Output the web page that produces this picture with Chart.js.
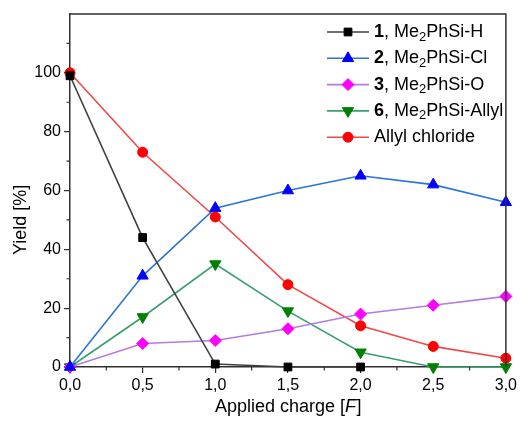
<!DOCTYPE html>
<html><head><meta charset="utf-8">
<script src="https://cdn.jsdelivr.net/npm/chart.js@4.4.0/dist/chart.umd.min.js"></script>
<style>html,body{margin:0;padding:0;background:#fff}#wrap{width:520px;height:421px}</style>
</head><body><div id="wrap"><canvas id="c" width="520" height="421"></canvas></div>
<script>
const charge = [0, 0.5, 1.0, 1.5, 2.0, 2.5, 3.0];
const yieldSiH = [99, 44, 1, 0, 0];
const yieldSiCl = [0, 31, 54, 60, 65, 62, 56];
const yieldSiO = [0, 8, 9, 13, 18, 21, 24];
const yieldSiAllyl = [0, 17, 35, 19, 5, 0, 0];
const yieldAllylCl = [100, 73, 51, 28, 14, 7, 3];
const legendNumbers = ['1', '2', '3', '6', ''];
const legendNames = ['Me₂PhSi-H', 'Me₂PhSi-Cl', 'Me₂PhSi-O', 'Me₂PhSi-Allyl', 'Allyl chloride'];
const xTicks = [0, 0.5, 1.0, 1.5, 2.0, 2.5, 3.0];
const yTicks = [0, 20, 40, 60, 80, 100];

const FONT = '"Liberation Sans", Arial, Helvetica, sans-serif';
Chart.defaults.font.family = FONT;
Chart.defaults.color = '#000';

function pts(vals) { return vals.map((v, i) => ({x: charge[i], y: v})); }

const styles = [
  {line: '#404040', mark: '#000000', style: 'rect', r: 5.5, rot: 0},
  {line: '#2b74d9', mark: '#0000ff', style: 'triangle', r: 6.5, rot: 0},
  {line: '#b57be0', mark: '#ff00ff', style: 'rectRot', r: 6, rot: 0},
  {line: '#3a9f6e', mark: '#008000', style: 'triangle', r: 6.5, rot: 180},
  {line: '#f04848', mark: '#ff0000', style: 'circle', r: 5, rot: 0}
];
const series = [yieldSiH, yieldSiCl, yieldSiO, yieldSiAllyl, yieldAllylCl];

const datasets = series.map((vals, i) => ({
  label: (legendNumbers[i] ? legendNumbers[i] + ', ' : '') + legendNames[i],
  data: pts(vals),
  borderColor: styles[i].line,
  borderWidth: 1.6,
  pointBackgroundColor: styles[i].mark,
  pointBorderColor: styles[i].mark,
  pointBorderWidth: 1,
  pointStyle: styles[i].style,
  pointRadius: styles[i].r,
  pointRotation: styles[i].rot,
  tension: 0,
  clip: false
}));

const extras = {
  id: 'extras',
  afterDraw(chart) {
    const ctx = chart.ctx, a = chart.chartArea;
    const xs = chart.scales.x, ys = chart.scales.y;
    ctx.save();
    // frame
    ctx.strokeStyle = '#303030'; ctx.lineWidth = 1.5;
    ctx.beginPath();
    ctx.moveTo(a.left, a.top); ctx.lineTo(a.right, a.top); ctx.lineTo(a.right, a.bottom);
    ctx.stroke();
    // minor ticks
    ctx.lineWidth = 1.2;
    ctx.beginPath();
    for (let v = 0.25; v < 3; v += 0.5) {
      const px = xs.getPixelForValue(v);
      ctx.moveTo(px, a.bottom); ctx.lineTo(px, a.bottom + 3.5);
    }
    for (let v = 10; v < 120; v += 20) {
      const py = ys.getPixelForValue(v);
      ctx.moveTo(a.left, py); ctx.lineTo(a.left - 3.5, py);
    }
    ctx.stroke();
    // x title
    ctx.fillStyle = '#000';
    ctx.textBaseline = 'alphabetic';
    const f1 = '18px ' + FONT, f2 = 'italic 18px ' + FONT;
    const p1 = 'Applied charge [', p2 = 'F', p3 = ']';
    ctx.font = f1; const w1 = ctx.measureText(p1).width, w3 = ctx.measureText(p3).width;
    ctx.font = f2; const w2 = ctx.measureText(p2).width;
    let tx = (a.left + a.right) / 2 - (w1 + w2 + w3) / 2;
    const ty = 412;
    ctx.textAlign = 'left';
    ctx.font = f1; ctx.fillText(p1, tx, ty); tx += w1;
    ctx.font = f2; ctx.fillText(p2, tx, ty); tx += w2 + 0.5;
    ctx.font = f1; ctx.fillText(p3, tx, ty);
    // y title
    ctx.save();
    ctx.translate(26, (ys.getPixelForValue(0) + ys.getPixelForValue(100)) / 2);
    ctx.rotate(-Math.PI / 2);
    ctx.textAlign = 'center';
    ctx.font = '18px ' + FONT;
    ctx.fillText('Yield [%]', 0, 0);
    ctx.restore();
    // legend
    const lf = '18px ' + FONT, lfb = 'bold 18px ' + FONT, sf = '13px ' + FONT;
    datasets.forEach((d, i) => {
      const y = 32 + i * 26.3;
      ctx.strokeStyle = d.borderColor; ctx.lineWidth = 1.6;
      ctx.beginPath(); ctx.moveTo(327, y); ctx.lineTo(369, y); ctx.stroke();
      ctx.fillStyle = d.pointBackgroundColor; ctx.strokeStyle = d.pointBorderColor; ctx.lineWidth = 1;
      Chart.helpers.drawPoint(ctx, {pointStyle: d.pointStyle, radius: d.pointRadius, rotation: d.pointRotation, borderWidth: 1}, 348, y);
      ctx.fillStyle = '#000'; ctx.textAlign = 'left'; ctx.textBaseline = 'middle';
      let x = 374;
      if (legendNumbers[i]) {
        ctx.font = lfb; ctx.fillText(legendNumbers[i], x, y); x += ctx.measureText(legendNumbers[i]).width;
        ctx.font = lf; ctx.fillText(', ', x, y); x += ctx.measureText(', ').width;
      }
      const parts = legendNames[i].split('₂');
      parts.forEach((p, k) => {
        ctx.font = lf; ctx.fillText(p, x, y); x += ctx.measureText(p).width;
        if (k < parts.length - 1) {
          ctx.font = sf; ctx.fillText('2', x, y + 5); x += ctx.measureText('2').width;
        }
      });
    });
    ctx.restore();
  }
};

new Chart(document.getElementById('c'), {
  type: 'line',
  data: {datasets},
  options: {
    responsive: false, animation: false, devicePixelRatio: 1,
    layout: {padding: {top: 14, right: 11, left: 0, bottom: 0}},
    plugins: {legend: {display: false}, tooltip: {enabled: false}, title: {display: false}},
    scales: {
      x: {
        type: 'linear', min: 0, max: 3,
        afterBuildTicks: s => { s.ticks = xTicks.map(v => ({value: v})); },
        afterFit: s => { s.height = 54; },
        ticks: {font: {size: 16}, color: '#000', padding: 3,
          callback: v => Number(v).toFixed(1).replace('.', ',')},
        grid: {drawOnChartArea: false, drawTicks: true, tickLength: 6, color: '#303030', lineWidth: 1.2},
        border: {display: true, color: '#303030', width: 1.5}
      },
      y: {
        min: 0, max: 120,
        afterBuildTicks: s => { s.ticks = yTicks.map(v => ({value: v})); },
        afterFit: s => { s.width = 70; },
        ticks: {font: {size: 16}, color: '#000', padding: 3},
        grid: {drawOnChartArea: false, drawTicks: true, tickLength: 6, color: '#303030', lineWidth: 1.2},
        border: {display: true, color: '#303030', width: 1.5}
      }
    }
  },
  plugins: [extras]
});
</script>
</body></html>
